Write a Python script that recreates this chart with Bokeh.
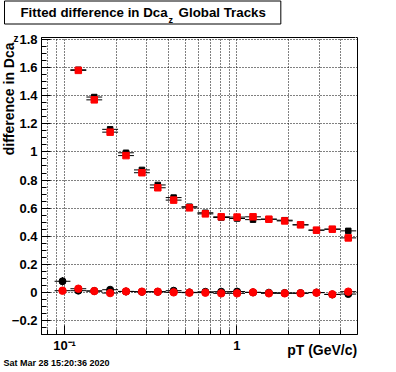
from bokeh.plotting import figure
from bokeh.models import (Range1d, FixedTicker, CustomJSTickFormatter, ColumnDataSource,
                          Title, LinearAxis)
from bokeh.embed import file_html
from bokeh.resources import INLINE

# ---------------- data ----------------
pt = [0.0973, 0.1202, 0.1487, 0.1838, 0.2272, 0.2810, 0.3473, 0.4292, 0.5302, 0.6559,
      0.8101, 1.0013, 1.239, 1.531, 1.891, 2.337, 2.891, 3.572, 4.420]
bin_half_log = 0.046   # half bin width in log10(pT)

sq_black = [None, 1.585, 1.391, 1.161, 0.994, 0.872, 0.765, 0.675, 0.610, 0.567,
            0.533, 0.526, 0.518, 0.521, 0.514, 0.481, 0.443, 0.450, 0.438]
sq_red = [None, 1.581, 1.371, 1.141, 0.974, 0.852, 0.745, 0.657, 0.602, 0.559,
          0.538, 0.536, 0.538, 0.521, 0.509, 0.481, 0.443, 0.450, 0.388]
sq_err = [0.008] * 19

circ_black = [0.079, 0.012, 0.010, 0.019, 0.006, 0.004, 0.004, 0.012, 0.000, 0.004,
              0.005, 0.006, 0.000, -0.002, -0.004, -0.005, -0.001, -0.015, -0.012]
circ_red = [0.012, 0.026, 0.009, -0.005, 0.007, 0.005, 0.005, 0.000, -0.002, -0.002,
            -0.007, -0.007, 0.000, -0.007, -0.007, -0.007, -0.002, -0.014, 0.005]
circ_err_black = [0.030] + [0.005] * 18
circ_err_red = [0.008] + [0.005] * 18

x_major = [0.1, 1.0]
x_minor = [0.08, 0.09, 0.2, 0.3, 0.4, 0.5, 0.6, 0.7, 0.8, 0.9, 2.0, 3.0, 4.0]
y_major = [-0.2, 0.0, 0.2, 0.4, 0.6, 0.8, 1.0, 1.2, 1.4, 1.6, 1.8]
y_minor = [round(-0.3 + 0.05 * k, 2) for k in range(43)]

NB = "\u00a0"
title_text = "Fitted difference in Dca" + NB * 3 + "Global Tracks"
title_sub = "z"
ytitle_text = "difference in Dca"
ytitle_sub = "z"
xtitle_text = "pT (GeV/c)"
xtitle_at = 3.12          # x value under the centre of the x title
date_text = "Sat Mar 28 15:20:36 2020"

FONT = "Liberation Sans"


def make_source(xs, ys, errs):
    f = 10 ** bin_half_log
    d = dict(x=[], y=[], xlo=[], xhi=[], ylo=[], yhi=[])
    for x, y, e in zip(xs, ys, errs):
        if y is None:
            continue
        d["x"].append(x)
        d["y"].append(y)
        d["xlo"].append(x / f)
        d["xhi"].append(x * f)
        d["ylo"].append(y - e)
        d["yhi"].append(y + e)
    return ColumnDataSource(d)


p = figure(width=396, height=372, x_axis_type="log",
           x_range=Range1d(0.0735, 5.0), y_range=Range1d(-0.3, 1.815),
           output_backend="svg", toolbar_location=None,
           min_border_left=41, min_border_right=39, min_border_top=37, min_border_bottom=38)
p.title_location = None

p.background_fill_color = "white"
p.border_fill_color = "white"
p.outline_line_color = "black"
p.outline_line_width = 1
p.outline_line_alpha = 1.0

xt = FixedTicker(ticks=x_major, minor_ticks=x_minor)
yt = FixedTicker(ticks=y_major, minor_ticks=y_minor)
p.xaxis.ticker = xt
p.yaxis.ticker = yt
p.xgrid.ticker = xt
p.ygrid.ticker = yt

p.xaxis.formatter = CustomJSTickFormatter(code="return tick < 0.5 ? '10\\u207b\\u00b9' : '1';")
p.yaxis.formatter = CustomJSTickFormatter(code="""
const v = Math.round(tick * 10) / 10;
return v < 0 ? '\\u2212' + String(-v) : String(v);
""")

for ax in (p.xaxis, p.yaxis):
    ax.axis_line_color = "black"
    ax.major_tick_line_color = "black"
    ax.minor_tick_line_color = "black"
    ax.major_tick_in = 9
    ax.major_tick_out = 0
    ax.minor_tick_in = 5
    ax.minor_tick_out = 0
    ax.major_label_text_font = FONT
    ax.major_label_text_font_style = "bold"
    ax.major_label_text_font_size = "13px"
    ax.major_label_text_color = "black"
p.xaxis.major_label_standoff = 3
p.yaxis.major_label_standoff = 4

p.xgrid.grid_line_color = "black"
p.xgrid.grid_line_dash = "1 2"
p.xgrid.grid_line_width = 1
p.xgrid.minor_grid_line_color = "black"
p.xgrid.minor_grid_line_dash = "1 2"
p.xgrid.minor_grid_line_width = 1
p.ygrid.grid_line_color = "black"
p.ygrid.grid_line_dash = "1 2"
p.ygrid.grid_line_width = 1

src_sq_b = make_source(pt, sq_black, sq_err)
src_ci_b = make_source(pt, circ_black, circ_err_black)
src_sq_r = make_source(pt, sq_red, sq_err)
src_ci_r = make_source(pt, circ_red, circ_err_red)

for src in (src_sq_b, src_ci_b):
    p.segment(x0="xlo", y0="y", x1="xhi", y1="y", source=src, line_color="black", line_width=1)
    p.segment(x0="x", y0="ylo", x1="x", y1="yhi", source=src, line_color="black", line_width=1)
p.scatter("x", "y", source=src_sq_b, marker="square", size=5.5, fill_color="black", line_color="black")
p.scatter("x", "y", source=src_ci_b, marker="circle", size=7, fill_color="black", line_color="black")

for src in (src_sq_r, src_ci_r):
    p.segment(x0="xlo", y0="y", x1="xhi", y1="y", source=src, line_color="black", line_width=1)
    p.segment(x0="x", y0="ylo", x1="x", y1="yhi", source=src, line_color="black", line_width=1)
p.scatter("x", "y", source=src_sq_r, marker="square", size=6.5, fill_color="red", line_color="red")
p.scatter("x", "y", source=src_ci_r, marker="circle", size=7.5, fill_color="red", line_color="red")


# ---------------- texts outside the frame (side panels) ----------------
def mk_title(text, size, align, valign, offset, standoff, **kw):
    return Title(text=text, text_font=FONT, text_font_style="bold", text_font_size=size,
                 text_color="black", align=align, vertical_align=valign,
                 offset=offset, standoff=standoff, **kw)


# above panel (first item is closest to the frame)
t_yz = mk_title(ytitle_sub, "10px", "left", "bottom", -28, -13)
filler = LinearAxis(ticker=FixedTicker(ticks=[4.9]),
                    formatter=CustomJSTickFormatter(code="return '';"),
                    major_tick_out=19, major_tick_in=0, minor_tick_out=0, minor_tick_in=0,
                    axis_line_color=None, major_tick_line_color="white",
                    minor_tick_line_color=None, major_label_standoff=0,
                    major_label_text_font_size="0px")
t_tz = mk_title(title_sub, "9px", "left", "bottom", 127, -12)
t_box = mk_title(title_text, "13.3px", "left", "middle", -37, -13,
                 border_line_color="black", border_line_width=1,
                 background_fill_color=None,
                 padding=dict(left=16, right=15, top=4, bottom=4))
p.above = [t_yz, filler, t_tz, t_box]

# left panel: y title after the y axis
t_ytitle = mk_title(ytitle_text, "14px", "right", "bottom", 5, -17)
p.add_layout(t_ytitle, "left")

# below panel: x title (as a tick label of a bare axis), then the date stamp
xt_axis = LinearAxis(ticker=FixedTicker(ticks=[xtitle_at]),
                     formatter=CustomJSTickFormatter(args=dict(t=xtitle_text), code="return t;"),
                     major_tick_out=0, major_tick_in=0, minor_tick_out=0, minor_tick_in=0,
                     axis_line_color=None, major_tick_line_color=None, minor_tick_line_color=None,
                     major_label_standoff=-14, major_label_text_font=FONT,
                     major_label_text_font_style="bold", major_label_text_font_size="14px",
                     major_label_text_color="black")
p.add_layout(xt_axis, "below")
t_date = mk_title(date_text, "9px", "left", "top", -38, -5)
p.add_layout(t_date, "below")

with open("out.html", "w", encoding="utf-8") as f:
    f.write(file_html(p, INLINE))
